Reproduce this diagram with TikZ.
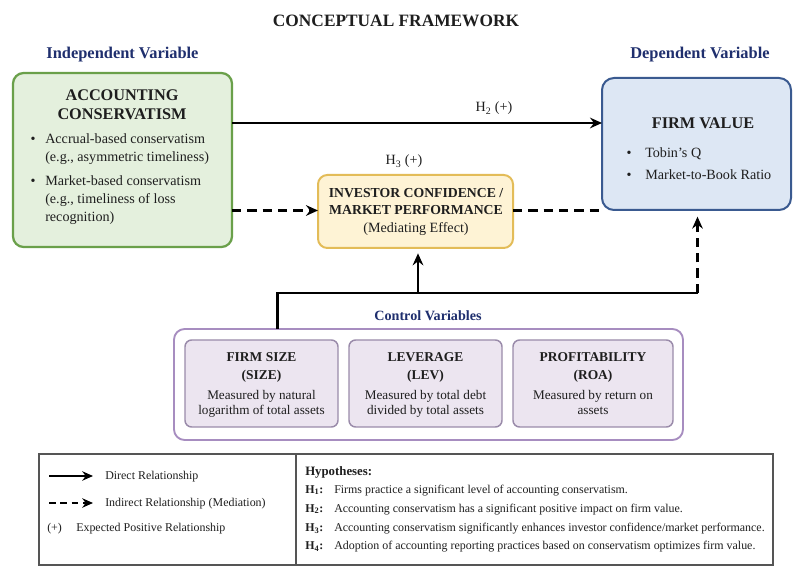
\documentclass[tikz,border=0pt]{standalone}
\usepackage{fontspec}
\setmainfont{Liberation Serif}
\usetikzlibrary{arrows.meta}
\definecolor{navy}{HTML}{1F2F6E}
\definecolor{gfill}{HTML}{E4F0DD}
\definecolor{gdraw}{HTML}{6AA04A}
\definecolor{bfill}{HTML}{DDE7F4}
\definecolor{bdraw}{HTML}{3A5A90}
\definecolor{yfill}{HTML}{FEF3D5}
\definecolor{ydraw}{HTML}{E3BC58}
\definecolor{pdraw}{HTML}{A78DC0}
\definecolor{pfill}{HTML}{ECE5F0}
\definecolor{pidraw}{HTML}{9A8BAA}
\definecolor{legdraw}{HTML}{555555}
\definecolor{txtc}{HTML}{1E1E1E}
\newcommand{\fTitle}{\fontsize{13.0}{15}\selectfont\bfseries}
\newcommand{\fHead}{\fontsize{12.3}{14}\selectfont\bfseries}
\newcommand{\fBoxT}{\fontsize{12.2}{14}\selectfont\bfseries}
\newcommand{\fBody}{\fontsize{10.6}{12}\selectfont}
\newcommand{\fMidT}{\fontsize{10.3}{12}\selectfont\bfseries}
\newcommand{\fInT}{\fontsize{10.1}{12}\selectfont\bfseries}
\newcommand{\fIn}{\fontsize{9.9}{12}\selectfont}
\newcommand{\fLeg}{\fontsize{8.95}{11}\selectfont}
\newcommand{\fLab}{\fontsize{10.6}{12}\selectfont}
\begin{document}
\begin{tikzpicture}[x=0.75pt,y=-0.75pt,
  every node/.style={text=txtc},
  txt/.style={inner sep=0pt, anchor=base},
  txtl/.style={inner sep=0pt, anchor=base west},
  bx/.style={rectangle, inner sep=0pt, outer sep=0pt},
  gbox/.style={bx, draw=gdraw, fill=gfill, line width=1.7pt, rounded corners=8pt},
  bbox/.style={bx, draw=bdraw, fill=bfill, line width=1.5pt, rounded corners=9pt},
  ybox/.style={bx, draw=ydraw, fill=yfill, line width=1.5pt, rounded corners=7pt},
  obox/.style={bx, draw=pdraw, fill=white, line width=1.4pt, rounded corners=8pt},
  ibox/.style={bx, draw=pidraw, fill=pfill, line width=1.1pt, rounded corners=5pt},
  lbox/.style={bx, draw=legdraw, line width=0.8pt},
  ln/.style={line width=1.6pt, draw=black},
  arr/.style={ln, -{Stealth[length=9pt,width=8pt,inset=3pt]}},
  dln/.style={ln, dash pattern=on 7pt off 4.5pt},
  darr/.style={dln, -{Stealth[length=9pt,width=8pt,inset=3pt]}},
  larr/.style={line width=1.3pt, -{Stealth[length=8pt,width=7pt,inset=2.5pt]}},
  ldarr/.style={larr, dash pattern=on 5pt off 3.5pt},
  head/.style={txt, text=navy, font=\fHead}
]
\useasboundingbox (0,0) rectangle (794,570);
\fill[white] (0,0) rectangle (794,570);

% title and headings
\node[txt, font=\fTitle] (title) at (396,26.7) {CONCEPTUAL FRAMEWORK};
\node[head] (indep) at (122.5,59) {Independent Variable};
\node[head] (dep) at (700,59) {Dependent Variable};

% boxes
\node[gbox, minimum width=219*0.75pt, minimum height=174*0.75pt] (acc) at (122.5,160) {};
\node[bbox, minimum width=189*0.75pt, minimum height=132*0.75pt] (fv) at (696.5,144) {};
\node[ybox, minimum width=195*0.75pt, minimum height=73*0.75pt] (inv) at (415.5,211.5) {};
\node[obox, minimum width=509*0.75pt, minimum height=111*0.75pt] (ctrl) at (428.5,384.5) {};
\node[ibox, minimum width=153*0.75pt, minimum height=87*0.75pt] (c1) at (261.5,383.5) {};
\node[ibox, minimum width=153*0.75pt, minimum height=87*0.75pt] (c2) at (425.5,383.5) {};
\node[ibox, minimum width=160*0.75pt, minimum height=87*0.75pt] (c3) at (593,383.5) {};
\node[lbox, minimum width=734*0.75pt, minimum height=111*0.75pt] (leg) at (406,509.5) {};
\coordinate (dv) at (296,0);
\draw[legdraw, line width=0.8pt] (dv |- leg.north) -- (dv |- leg.south);

% accounting conservatism text
\node[txt, font=\fBoxT] (a1) at (122,101) {ACCOUNTING};
\node[txt, font=\fBoxT] (a2) at (122,120) {CONSERVATISM};
\node[txt, font=\fBody] (ab1) at (33,144) {\textbullet};
\node[txtl, font=\fBody] (at1) at (45,144) {Accrual-based conservatism};
\node[txtl, font=\fBody] (at2) at (45,161.7) {(e.g., asymmetric timeliness)};
\node[txt, font=\fBody] (ab2) at (33,185.7) {\textbullet};
\node[txtl, font=\fBody] (at3) at (45,185.7) {Market-based conservatism};
\node[txtl, font=\fBody] (at4) at (45,203.3) {(e.g., timeliness of loss};
\node[txtl, font=\fBody] (at5) at (45,221.3) {recognition)};

% firm value text
\node[txt, font=\fBoxT] (f1) at (703,128.5) {FIRM VALUE};
\node[txt, font=\fBody] (fb1) at (629,157.3) {\textbullet};
\node[txtl, font=\fBody] (ft1) at (645,157.3) {Tobin’s Q};
\node[txt, font=\fBody] (fb2) at (629,180) {\textbullet};
\node[txtl, font=\fBody] (ft2) at (645,180) {Market-to-Book Ratio};

% investor confidence text
\node[txt, font=\fMidT] (i1) at (416,197.7) {INVESTOR CONFIDENCE /};
\node[txt, font=\fMidT] (i2) at (416,215) {MARKET PERFORMANCE};
\node[txt, font=\fBody] (i3) at (416,233) {(Mediating Effect)};

% control variables
\node[txt, font=\fontsize{10.6}{12}\selectfont\bfseries, text=navy] (cv) at (428,320.7) {Control Variables};
\node[txt, font=\fInT] (c1a) at (261.5,361.7) {FIRM SIZE};
\node[txt, font=\fInT] (c1b) at (261.5,380) {(SIZE)};
\node[txt, font=\fIn] (c1c) at (261.5,399.3) {Measured by natural};
\node[txt, font=\fIn] (c1d) at (261.5,415) {logarithm of total assets};
\node[txt, font=\fInT] (c2a) at (425.5,361.7) {LEVERAGE};
\node[txt, font=\fInT] (c2b) at (425.5,380) {(LEV)};
\node[txt, font=\fIn] (c2c) at (425.5,399.3) {Measured by total debt};
\node[txt, font=\fIn] (c2d) at (425.5,415) {divided by total assets};
\node[txt, font=\fInT] (c3a) at (593,361.7) {PROFITABILITY};
\node[txt, font=\fInT] (c3b) at (593,380) {(ROA)};
\node[txt, font=\fIn] (c3c) at (593,399.3) {Measured by return on};
\node[txt, font=\fIn] (c3d) at (593,415) {assets};

% connectors
\coordinate (r123) at (0,123);
\coordinate (r210) at (0,210.5);
\draw[arr] (acc.east |- r123) -- (fv.west |- r123);
\node[txt, font=\fLab] (h2) at (494,112) {H\textsubscript{2} (+)};
\node[txt, font=\fLab] (h3) at (404,165) {H\textsubscript{3} (+)};
\draw[darr] (acc.east |- r210) -- (inv.west |- r210);
\draw[dln] (inv.east |- r210) -- (fv.west |- r210);
\coordinate (j1) at (277.5,293);
\coordinate (j2) at (418,293);
\coordinate (j3) at (697.5,293);
\draw[ln] (j1 |- ctrl.north) -- (j1) -- (j3);
\draw[arr, shorten >=4pt] (j2) -- (j2 |- inv.south);
\draw[darr, shorten >=5pt] (j3) -- (j3 |- fv.south);

% legend
\coordinate (l1a) at (49,476);
\coordinate (l1b) at (93,476);
\coordinate (l2a) at (49,503);
\coordinate (l2b) at (93,503);
\draw[larr] (l1a) -- (l1b);
\draw[ldarr] (l2a) -- (l2b);
\node[txtl, font=\fLeg] (lt1) at (105,479.3) {Direct Relationship};
\node[txtl, font=\fLeg] (lt2) at (105,506.7) {Indirect Relationship (Mediation)};
\node[txtl, font=\fLeg] (lt3a) at (47,531.7) {(+)};
\node[txtl, font=\fLeg] (lt3) at (76,531.7) {Expected Positive Relationship};
\node[txtl, font=\fontsize{9.6}{11}\selectfont\bfseries] (hy) at (305,476) {Hypotheses:};
\node[txtl, font=\fLeg\bfseries] (hk1) at (305,493.3) {H\textsubscript{1}:};
\node[txtl, font=\fLeg] (ht1) at (334,493.3) {Firms practice a significant level of accounting conservatism.};
\node[txtl, font=\fLeg\bfseries] (hk2) at (305,512.3) {H\textsubscript{2}:};
\node[txtl, font=\fLeg] (ht2) at (334,512.3) {Accounting conservatism has a significant positive impact on firm value.};
\node[txtl, font=\fLeg\bfseries] (hk3) at (305,531.7) {H\textsubscript{3}:};
\node[txtl, font=\fLeg] (ht3) at (334,531.7) {Accounting conservatism significantly enhances investor confidence/market performance.};
\node[txtl, font=\fLeg\bfseries] (hk4) at (305,550) {H\textsubscript{4}:};
\node[txtl, font=\fLeg] (ht4) at (334,550) {Adoption of accounting reporting practices based on conservatism optimizes firm value.};
\end{tikzpicture}
\end{document}
